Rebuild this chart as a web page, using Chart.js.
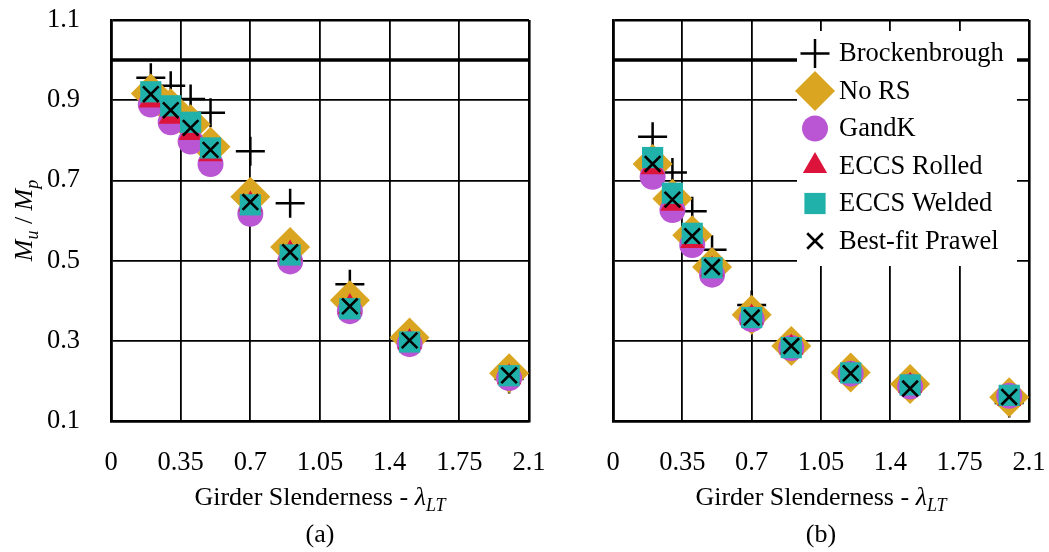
<!DOCTYPE html>
<html>
<head>
<meta charset="utf-8">
<script src="https://cdn.jsdelivr.net/npm/chart.js@4.4.0/dist/chart.umd.min.js"></script>
<style>
  html, body { margin: 0; padding: 0; background: #fff; }
  #wrap { position: relative; width: 1049px; height: 552px; }
  canvas { position: absolute; top: 0; }
</style>
</head>
<body>
<div id="wrap">
  <canvas id="chartA" width="560" height="552" style="left:0"></canvas>
  <canvas id="chartB" width="489" height="552" style="left:560px"></canvas>
</div>
<script>
// girder slenderness of each analysed section
const slenderness = [0.2, 0.3, 0.4, 0.5, 0.7, 0.9, 1.2, 1.5, 2.0];

const seriesLabels = ['Brockenbrough', 'No RS', 'GandK', 'ECCS Rolled', 'ECCS Welded', 'Best-fit Prawel'];

// Mu / Mp, panel (a)
const brockA  = [0.956, 0.936, 0.903, 0.869, 0.773, 0.643, 0.441, 0.305, 0.205];
const noRsA   = [0.917, 0.880, 0.840, 0.784, 0.659, 0.534, 0.401, 0.308, 0.219];
const gandkA  = [0.889, 0.845, 0.797, 0.741, 0.617, 0.498, 0.374, 0.292, 0.207];
const rolledA = [0.899, 0.859, 0.818, 0.765, 0.640, 0.518, 0.384, 0.297, 0.209];
const weldedA = [0.921, 0.886, 0.845, 0.781, 0.639, 0.514, 0.380, 0.297, 0.213];
const prawelA = [0.915, 0.875, 0.831, 0.776, 0.646, 0.521, 0.386, 0.301, 0.214];

// Mu / Mp, panel (b)
const brockB  = [0.809, 0.720, 0.623, 0.527, 0.389, 0.295, 0.222, 0.185, 0.145];
const noRsB   = [0.741, 0.654, 0.563, 0.484, 0.365, 0.287, 0.221, 0.192, 0.159];
const gandkB  = [0.709, 0.626, 0.539, 0.465, 0.354, 0.282, 0.218, 0.186, 0.163];
const rolledB = [0.733, 0.642, 0.549, 0.478, 0.358, 0.283, 0.215, 0.188, 0.155];
const weldedB = [0.757, 0.668, 0.568, 0.482, 0.358, 0.283, 0.220, 0.190, 0.164];
const prawelB = [0.741, 0.652, 0.561, 0.484, 0.358, 0.287, 0.219, 0.181, 0.160];

// full plastic moment line
const plasticX = [0, 2.1];
const plasticY = [1.0, 1.0];

const xTickLabels = ['0', '0.35', '0.7', '1.05', '1.4', '1.75', '2.1'];
const yTickLabels = ['0.1', '0.3', '0.5', '0.7', '0.9', '1.1'];

const serif = '"Liberation Serif", "Times New Roman", serif';
const fontSize = 26.5;

const markers = [
  { style: 'cross',    radius: 14.5, color: '#000000', line: 2.5 },
  { style: 'rectRot',  radius: 20,   color: '#daa520', line: 0 },
  { style: 'circle',   radius: 13,   color: '#ba55d3', line: 0 },
  { style: 'triangle', radius: 14,   color: '#dc143c', line: 0 },
  { style: 'rect',     radius: 15,   color: '#20b2aa', line: 0 },
  { style: 'crossRot', radius: 11,   color: '#000000', line: 2.6 },
];

const xTitle = [
  { text: 'Girder Slenderness - ' },
  { text: '\u03bb', italic: true },
  { text: 'LT', italic: true, sub: true },
];
const yTitle = [
  { text: 'M', italic: true },
  { text: 'u', italic: true, sub: true },
  { text: ' / ' },
  { text: 'M', italic: true },
  { text: 'p', italic: true, sub: true },
];

const toPoints = (xs, ys) => xs.map((x, i) => ({ x: x, y: ys[i] }));

// writes mixed italic / subscript text centred on the current origin
const drawRuns = (ctx, runs, size) => {
  const fontFor = r => (r.italic ? 'italic ' : '') + (r.sub ? Math.round(size * 0.7) : size) + 'px ' + serif;
  let total = 0;
  runs.forEach(r => {
    ctx.font = fontFor(r);
    total += ctx.measureText(r.text).width;
  });
  let x = -total / 2;
  ctx.textAlign = 'left';
  ctx.textBaseline = 'middle';
  runs.forEach(r => {
    ctx.font = fontFor(r);
    ctx.fillText(r.text, x, r.sub ? size * 0.3 : 0);
    x += ctx.measureText(r.text).width;
  });
}

const captions = {
  id: 'captions',
  afterDraw(chart, args, opts) {
    const { ctx, chartArea } = chart;
    const cx = (chartArea.left + chartArea.right) / 2;
    ctx.save();
    ctx.fillStyle = '#000';
    ctx.translate(cx, chartArea.bottom + 77);
    drawRuns(ctx, xTitle, 26);
    ctx.translate(0, 37);
    drawRuns(ctx, [{ text: opts.panel }], 26);
    ctx.restore();
    if (opts.yTitle) {
      ctx.save();
      ctx.fillStyle = '#000';
      ctx.translate(25, (chartArea.top + chartArea.bottom) / 2);
      ctx.rotate(-Math.PI / 2);
      drawRuns(ctx, yTitle, 26);
      ctx.restore();
    }
  }
}

// legend box with each marker drawn at its plotted size
const markerLegend = {
  id: 'markerLegend',
  afterDatasetsDraw(chart, args, opts) {
    if (!opts.show) return;
    const { ctx, chartArea } = chart;
    const left = chartArea.right - 232;
    const top = chartArea.top + 11;
    ctx.save();
    ctx.fillStyle = '#fff';
    ctx.fillRect(left, top, 220, 235);
    chart.data.datasets.forEach((ds, i) => {
      if (ds.type === 'line') return;
      const y = top + 22.5 + ds.legendRow * 37.5;
      ctx.fillStyle = ds.backgroundColor;
      ctx.strokeStyle = ds.borderColor;
      ctx.lineWidth = ds.pointBorderWidth;
      Chart.helpers.drawPoint(ctx, {
        pointStyle: ds.pointStyle,
        radius: ds.pointRadius,
        rotation: 0,
        borderWidth: ds.pointBorderWidth,
      }, left + 18, y);
      ctx.fillStyle = '#000';
      ctx.font = fontSize + 'px ' + serif;
      ctx.textAlign = 'left';
      ctx.textBaseline = 'middle';
      ctx.fillText(ds.label, left + 42, y + 1);
    });
    ctx.restore();
  }
}

const edgeWidth = (ctx, count) => (ctx.index === 0 || ctx.index === count - 1) ? 2.6 : 1.8;

const buildChart = (id, series, panel, withYLabels) => {
  const datasets = seriesLabels.map((label, i) => ({
    label: label,
    legendRow: i,
    data: toPoints(slenderness, series[i]),
    pointStyle: markers[i].style,
    pointRadius: markers[i].radius,
    pointHoverRadius: markers[i].radius,
    backgroundColor: markers[i].color,
    borderColor: markers[i].color,
    pointBorderWidth: markers[i].line,
    order: seriesLabels.length - i,
    clip: false,
  }));
  datasets.push({
    type: 'line',
    label: 'Mp',
    data: toPoints(plasticX, plasticY),
    borderColor: '#000',
    borderWidth: 3.5,
    pointRadius: 0,
    order: 20,
  });

  return new Chart(document.getElementById(id).getContext('2d'), {
    type: 'scatter',
    data: { datasets: datasets },
    plugins: [captions, markerLegend],
    options: {
      responsive: false,
      animation: false,
      events: [],
      layout: {
        padding: { top: 19, right: withYLabels ? 31 : 17, bottom: 0, left: 0 }
      },
      plugins: {
        legend: { display: false },
        tooltip: { enabled: false },
        captions: { panel: panel, yTitle: withYLabels },
        markerLegend: { show: !withYLabels },
      },
      scales: {
        x: {
          type: 'linear',
          min: 0,
          max: 2.1,
          afterFit: s => { s.height = 131 },
          ticks: {
            stepSize: 0.35,
            autoSkip: false,
            maxRotation: 0,
            padding: 0,
            color: '#000',
            font: { family: serif, size: fontSize },
            callback: (v, i) => xTickLabels[i],
          },
          // invisible tick marks only push the labels away from the frame
          grid: {
            color: '#000',
            lineWidth: c => edgeWidth(c, xTickLabels.length),
            drawTicks: true,
            tickLength: 26,
            tickColor: 'rgba(0,0,0,0)',
          },
          border: { color: '#000', width: 2.6 },
        },
        y: {
          type: 'linear',
          min: 0.1,
          max: 1.1,
          afterFit: s => { s.width = withYLabels ? 111 : 53 },
          ticks: {
            stepSize: 0.2,
            display: withYLabels,
            padding: 0,
            color: '#000',
            font: { family: serif, size: fontSize },
            callback: (v, i) => yTickLabels[i],
          },
          grid: {
            color: '#000',
            lineWidth: c => edgeWidth(c, yTickLabels.length),
            drawTicks: true,
            tickLength: 31,
            tickColor: 'rgba(0,0,0,0)',
          },
          border: { color: '#000', width: 2.6 },
        }
      }
    }
  });
}

buildChart('chartA', [brockA, noRsA, gandkA, rolledA, weldedA, prawelA], '(a)', true);
buildChart('chartB', [brockB, noRsB, gandkB, rolledB, weldedB, prawelB], '(b)', false);
</script>
</body>
</html>
